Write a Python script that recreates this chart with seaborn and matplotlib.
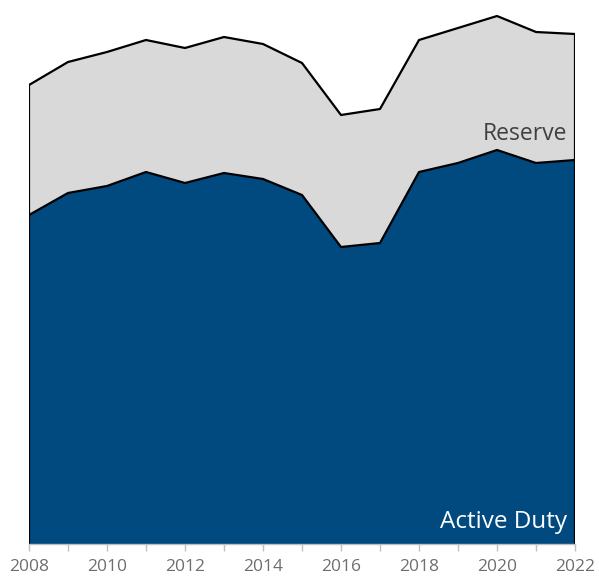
import matplotlib
matplotlib.use("Agg")
import matplotlib.pyplot as plt
import seaborn as sns
import pandas as pd

years = list(range(2008, 2023))
active_duty = [329, 351, 358, 372, 361, 371, 365, 349, 297, 301, 372, 381, 394, 381, 384]
reserve = [130, 131, 134, 132, 135, 136, 135, 132, 132, 134, 132, 135, 134, 131, 126]
tick_years = list(range(2008, 2023, 2))

df = pd.DataFrame({"year": years, "Active Duty": active_duty, "Reserve": reserve})
df["Total"] = df["Active Duty"] + df["Reserve"]

sns.set_theme(style="white")
plt.rcParams["font.family"] = ["Open Sans", "DejaVu Sans"]

fig = plt.figure(figsize=(5.99, 5.78), dpi=100)
ax = fig.add_axes([29 / 599, 34 / 578, 546 / 599, 540 / 578])

blue = "#004a80"
grey = "#d9d9d9"

ax.stackplot(df["year"], df["Active Duty"], df["Reserve"],
             colors=[blue, grey], edgecolor="none")
sns.lineplot(data=df, x="year", y="Active Duty", ax=ax, color="black", lw=1.6)
sns.lineplot(data=df, x="year", y="Total", ax=ax, color="black", lw=1.6)
ax.vlines([years[0]], 0, df["Total"].iloc[0], color="black", lw=1.6)
ax.vlines([years[-1]], 0, df["Total"].iloc[-1], color="black", lw=1.6)

ax.set_xlim(years[0], years[-1])
ax.set_ylim(0, 540)
ax.set_xlabel("")
ax.set_ylabel("")
ax.set_yticks([])
ax.set_xticks(years, minor=False)
ax.set_xticklabels([str(y) if y in tick_years else "" for y in years])
ax.tick_params(axis="x", direction="out", length=5, width=1, color="#bfbfbf",
               labelcolor="#6e6e6e", labelsize=12.5, pad=6, bottom=True)
for side in ["top", "left", "right"]:
    ax.spines[side].set_visible(False)
ax.spines["bottom"].set_color("#bfbfbf")
ax.spines["bottom"].set_linewidth(1)

ax.text(2021.8, 16, "Active Duty", color="white", fontsize=17.5, ha="right", va="baseline")
ax.text(2021.8, 404, "Reserve", color="#404040", fontsize=16.5, ha="right", va="baseline")

fig.savefig("out.png", dpi=100)
